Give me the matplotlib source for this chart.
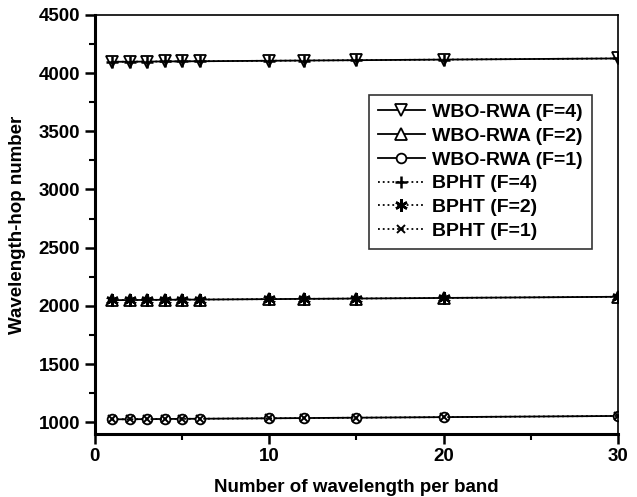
import matplotlib
matplotlib.use("Agg")
import matplotlib.pyplot as plt
from matplotlib.ticker import MultipleLocator

plt.rcParams['font.family'] = ['Liberation Sans', 'DejaVu Sans']
plt.rcParams['font.weight'] = 'bold'

# data
x = [1, 2, 3, 4, 5, 6, 10, 12, 15, 20, 30]
wbo_f4 = [4097, 4098, 4099, 4100, 4101, 4102, 4106, 4108, 4111, 4116, 4126]
wbo_f2 = [2049, 2050, 2051, 2052, 2053, 2054, 2058, 2060, 2063, 2068, 2078]
wbo_f1 = [1025, 1026, 1027, 1028, 1029, 1030, 1034, 1036, 1039, 1044, 1054]
bpht_f4 = wbo_f4
bpht_f2 = wbo_f2
bpht_f1 = wbo_f1

fig = plt.figure(figsize=(6.37, 4.97), dpi=100)
ax = fig.add_axes([0.149, 0.127, 0.821, 0.843])

ms = 8
ax.plot(x, wbo_f4, '-', color='black', lw=1.3, marker='v', ms=ms, mfc='white', mec='black', mew=1.3, label='WBO-RWA (F=4)')
ax.plot(x, wbo_f2, '-', color='black', lw=1.3, marker='^', ms=ms, mfc='white', mec='black', mew=1.3, label='WBO-RWA (F=2)')
ax.plot(x, wbo_f1, '-', color='black', lw=1.3, marker='o', ms=ms - 1, mfc='white', mec='black', mew=1.3, label='WBO-RWA (F=1)')
ax.plot(x, bpht_f4, ':', color='black', lw=1.3, marker='+', ms=ms + 1, mew=1.8, label='BPHT (F=4)')
ax.plot(x, bpht_f2, ':', color='black', lw=1.3, marker=(6, 2, 0), ms=ms + 1, mew=1.8, label='BPHT (F=2)')
ax.plot(x, bpht_f1, ':', color='black', lw=1.3, marker='x', ms=ms - 2, mew=1.4, label='BPHT (F=1)')

ax.set_xlim(0, 30)
ax.set_ylim(900, 4500)
ax.xaxis.set_major_locator(MultipleLocator(10))
ax.xaxis.set_minor_locator(MultipleLocator(5))
ax.yaxis.set_major_locator(MultipleLocator(500))
ax.yaxis.set_minor_locator(MultipleLocator(250))

ax.spines['left'].set_linewidth(2.2)
ax.spines['bottom'].set_linewidth(2.2)
ax.spines['top'].set_linewidth(1.2)
ax.spines['right'].set_linewidth(1.2)
ax.tick_params(which='major', direction='out', length=7, width=1.8, labelsize=13.5)
ax.tick_params(which='minor', direction='out', length=4, width=1.5)
for lab in ax.get_xticklabels() + ax.get_yticklabels():
    lab.set_fontweight('bold')

ax.set_xlabel('Number of wavelength per band', fontsize=13.5, fontweight='bold', labelpad=10)
ax.set_ylabel('Wavelength-hop number', fontsize=13.5, fontweight='bold', labelpad=9)

leg = ax.legend(loc='upper right', bbox_to_anchor=(0.95, 0.81), fontsize=14,
                frameon=True, fancybox=False, edgecolor='black', handlelength=2.4,
                handletextpad=0.4, labelspacing=0.32, borderpad=0.45, borderaxespad=0)
leg.get_frame().set_linewidth(1.2)
for t in leg.get_texts():
    t.set_fontweight('bold')

fig.savefig('out.png', dpi=100)
